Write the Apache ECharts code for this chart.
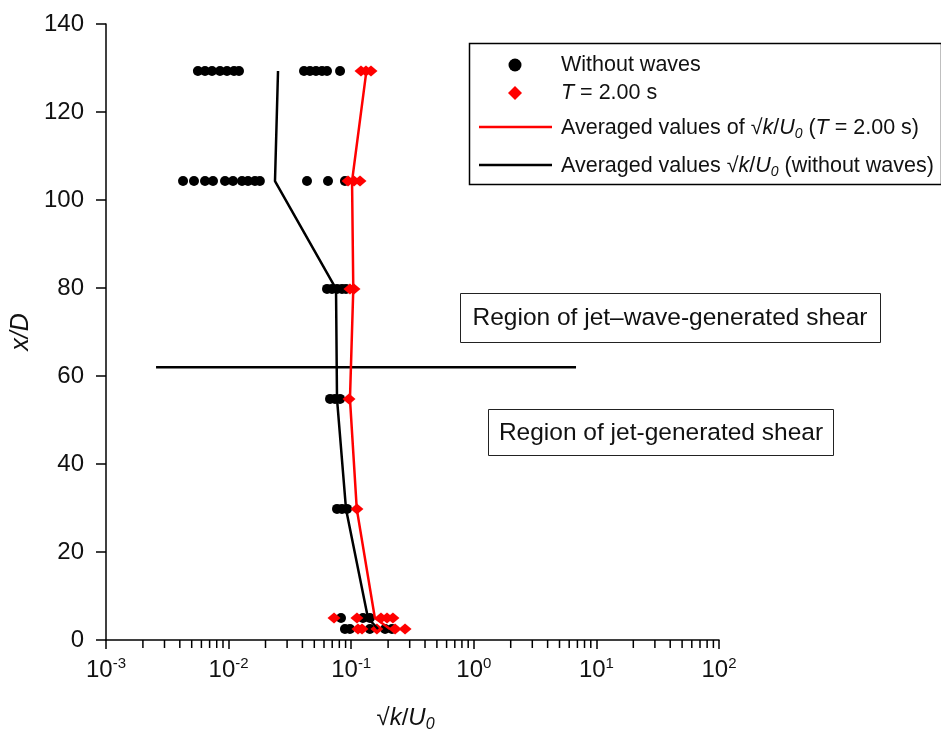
<!DOCTYPE html>
<html>
<head>
<meta charset="utf-8">
<script src="https://cdn.jsdelivr.net/npm/echarts@6/dist/echarts.min.js"></script>
<style>html,body{margin:0;padding:0;background:#fff}#c{width:941px;height:731px}</style>
</head>
<body>
<div id="c"></div>
<script>
// ---- data ----
const yTicks = [0, 20, 40, 60, 80, 100, 120, 140];
const xDecades = [0.001, 0.01, 0.1, 1, 10, 100];
const minorTickValues = [];
[0.001, 0.01, 0.1, 1, 10].forEach(function (d) { for (let m = 2; m <= 9; m++) minorTickValues.push(+(d * m).toPrecision(3)); });

const withoutWavesPts = [
  [0.00562,129.3],[0.00642,129.3],[0.00732,129.3],[0.00851,129.3],[0.0097,129.3],[0.01107,129.3],[0.01216,129.3],
  [0.0412,129.3],[0.0461,129.3],[0.0516,129.3],[0.0578,129.3],[0.0635,129.3],[0.0811,129.3],
  [0.00425,104.3],[0.00522,104.3],[0.00642,104.3],[0.00746,104.3],[0.00935,104.3],[0.01086,104.3],[0.01286,104.3],
  [0.0144,104.3],[0.0164,104.3],[0.018,104.3],[0.0436,104.3],[0.0647,104.3],[0.0889,104.3],
  [0.0635,79.8],[0.0697,79.8],[0.0766,79.8],[0.0841,79.8],[0.0907,79.8],
  [0.0672,54.8],[0.0738,54.8],[0.0811,54.8],
  [0.0766,29.8],[0.0841,29.8],[0.0924,29.8],
  [0.0826,5],[0.1247,5],[0.142,5],
  [0.0889,2.5],[0.0977,2.5],[0.142,2.5],[0.189,2.5],[0.215,2.5]
];
const wavesPts = [
  [0.1202,129.3],[0.132,129.3],[0.145,129.3],
  [0.0942,104.3],[0.1054,104.3],[0.118,104.3],
  [0.0977,79.8],[0.1054,79.8],
  [0.096,54.8],
  [0.1114,29.8],
  [0.0724,5],[0.1114,5],[0.175,5],[0.196,5],[0.219,5],
  [0.1135,2.5],[0.1225,2.5],[0.162,2.5],[0.228,2.5],[0.275,2.5]
];
const avgWithoutWaves = [[0.0253,129.3],[0.0239,104.3],[0.0752,79.8],[0.0766,54.8],[0.0907,29.8],[0.137,5],[0.1655,2.5]];
const avgWaves = [[0.133,129.3],[0.1016,104.3],[0.104,79.8],[0.0977,54.8],[0.111,29.8],[0.156,5],[0.207,2.5]];
const dividerLine = [[0.00256,62],[6.82,62]];

const FONT = '"Liberation Sans", Arial, sans-serif';
const TXT = '#111';
const LF = 21.5; // legend font size

const chart = echarts.init(document.getElementById('c'), null, {renderer: 'canvas'});
chart.setOption({
  animation: false,
  backgroundColor: '#fff',
  grid: {left: 106, right: 222, top: 24, bottom: 91, outerBoundsMode: 'none', containLabel: false},
  xAxis: {
    type: 'log', logBase: 10, min: 0.001, max: 100,
    name: '{r|√}{i|k}{n|/}{i|U}{sub|0}',
    nameLocation: 'middle', nameGap: 63,
    nameTextStyle: {
      fontFamily: FONT, color: TXT, fontSize: 24, padding: [0, 14, 0, 0],
      rich: {
        r: {fontFamily: FONT, fontSize: 24, color: TXT, lineHeight: 30},
        n: {fontFamily: FONT, fontSize: 24, color: TXT, lineHeight: 30},
        i: {fontFamily: FONT, fontSize: 24, fontStyle: 'italic', color: TXT, lineHeight: 30},
        sub: {fontFamily: FONT, fontSize: 16, fontStyle: 'italic', color: TXT, lineHeight: 13, verticalAlign: 'bottom'}
      }
    },
    axisLine: {show: true, lineStyle: {color: '#000', width: 1.5}},
    axisTick: {show: true, inside: false, length: 9, lineStyle: {color: '#000', width: 1.5}},
    minorTick: {show: false},
    splitLine: {show: false},
    axisLabel: {
      margin: 16,
      formatter: function (v) { const e = Math.round(Math.log10(v)); return '{b|10}{s|' + e + '}'; },
      rich: {
        b: {fontFamily: FONT, fontSize: 24, color: TXT, lineHeight: 28},
        s: {fontFamily: FONT, fontSize: 15, color: TXT, lineHeight: 12, verticalAlign: 'top'}
      }
    }
  },
  yAxis: {
    type: 'value', min: 0, max: 140, interval: 20,
    name: 'x/D', nameLocation: 'middle', nameGap: 67, nameRotate: 90,
    nameTextStyle: {fontFamily: FONT, fontSize: 25, fontStyle: 'italic', color: TXT},
    axisLine: {show: true, lineStyle: {color: '#000', width: 1.5}},
    axisTick: {show: true, inside: false, length: 10, lineStyle: {color: '#000', width: 1.5}},
    splitLine: {show: false},
    axisLabel: {margin: 22, fontFamily: FONT, fontSize: 24, color: TXT}
  },
  series: [
    {
      type: 'custom', name: 'minorTicks', silent: true, clip: false, z: 1,
      data: minorTickValues.map(function (v) { return [v, 0]; }),
      renderItem: function (params, api) {
        const p = api.coord([api.value(0), 0]);
        return {type: 'line', shape: {x1: p[0], y1: p[1], x2: p[0], y2: p[1] + 8}, style: {stroke: '#000', lineWidth: 1.5}};
      }
    },
    {type: 'scatter', name: 'Without waves', data: withoutWavesPts, symbol: 'circle', symbolSize: 10,
      itemStyle: {color: '#000', opacity: 1}, z: 2},
    {type: 'scatter', name: 'T = 2.00 s', data: wavesPts, symbol: 'diamond', symbolSize: [13, 11],
      itemStyle: {color: '#ff0000', opacity: 1}, z: 3},
    {type: 'line', name: 'avgWithout', data: avgWithoutWaves, symbol: 'none', lineStyle: {color: '#000', width: 2.5}, z: 4},
    {type: 'line', name: 'avgWaves', data: avgWaves, symbol: 'none', lineStyle: {color: '#ff0000', width: 2.5}, z: 5},
    {type: 'line', name: 'divider', data: dividerLine, symbol: 'none', lineStyle: {color: '#000', width: 2.5}, z: 4}
  ],
  graphic: [
    {type: 'rect', z: 100, shape: {x: 469.5, y: 43.5, width: 472, height: 141}, style: {fill: '#fff', stroke: '#000', lineWidth: 1.5}},
    {type: 'circle', z: 101, shape: {cx: 515, cy: 65, r: 6.5}, style: {fill: '#000'}},
    {type: 'polygon', z: 101, shape: {points: [[508, 93], [515, 86], [522, 93], [515, 100]]}, style: {fill: '#ff0000'}},
    {type: 'line', z: 101, shape: {x1: 479, y1: 127, x2: 552, y2: 127}, style: {stroke: '#ff0000', lineWidth: 2.5}},
    {type: 'line', z: 101, shape: {x1: 479, y1: 165, x2: 552, y2: 165}, style: {stroke: '#000', lineWidth: 2.5}},
    {type: 'text', z: 101, x: 561, y: 65, style: {text: 'Without waves', font: LF + 'px ' + FONT, fill: TXT, verticalAlign: 'middle'}},
    {type: 'text', z: 101, x: 561, y: 93, style: {
      text: '{i|T}{n| = 2.00 s}', verticalAlign: 'middle', fill: TXT,
      rich: {i: {font: 'italic ' + LF + 'px ' + FONT, fill: TXT, lineHeight: 26}, n: {font: LF + 'px ' + FONT, fill: TXT, lineHeight: 26}}
    }},
    {type: 'text', z: 101, x: 561, y: 128, style: {
      text: '{n|Averaged values of √}{i|k}{n|/}{i|U}{sub|0}{n| (}{i|T}{n| = 2.00 s)}', verticalAlign: 'middle', fill: TXT,
      rich: {
        i: {font: 'italic ' + LF + 'px ' + FONT, fill: TXT, lineHeight: 26},
        n: {font: LF + 'px ' + FONT, fill: TXT, lineHeight: 26},
        sub: {font: 'italic 14px ' + FONT, fill: TXT, lineHeight: 12, verticalAlign: 'bottom'}
      }
    }},
    {type: 'text', z: 101, x: 561, y: 166, style: {
      text: '{n|Averaged values √}{i|k}{n|/}{i|U}{sub|0}{n| (without waves)}', verticalAlign: 'middle', fill: TXT,
      rich: {
        i: {font: 'italic ' + LF + 'px ' + FONT, fill: TXT, lineHeight: 26},
        n: {font: LF + 'px ' + FONT, fill: TXT, lineHeight: 26},
        sub: {font: 'italic 14px ' + FONT, fill: TXT, lineHeight: 12, verticalAlign: 'bottom'}
      }
    }},
    {type: 'rect', z: 100, shape: {x: 460.5, y: 293.5, width: 420, height: 49}, style: {fill: '#fff', stroke: '#222', lineWidth: 1}},
    {type: 'text', z: 101, x: 670, y: 318, style: {text: 'Region of jet\u2013wave-generated shear', font: '24.5px ' + FONT, fill: TXT, align: 'center', verticalAlign: 'middle'}},
    {type: 'rect', z: 100, shape: {x: 488.5, y: 409.5, width: 345, height: 46}, style: {fill: '#fff', stroke: '#222', lineWidth: 1}},
    {type: 'text', z: 101, x: 661, y: 433, style: {text: 'Region of jet-generated shear', font: '24.5px ' + FONT, fill: TXT, align: 'center', verticalAlign: 'middle'}}
  ]
});
</script>
</body>
</html>
